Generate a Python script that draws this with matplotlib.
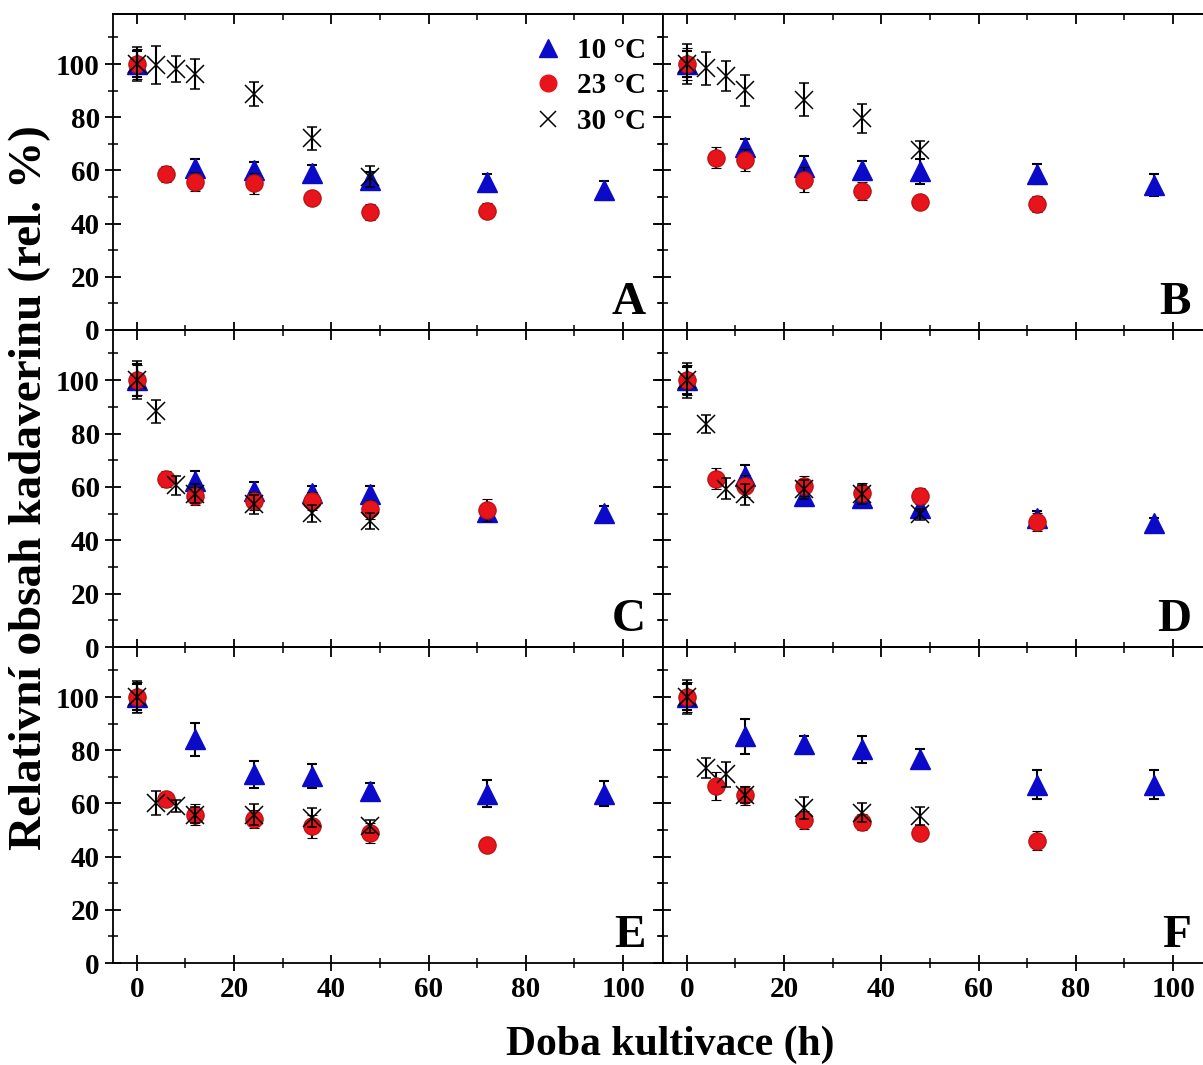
import matplotlib
matplotlib.use("Agg")
import matplotlib.pyplot as plt
from matplotlib.lines import Line2D
from matplotlib.ticker import MultipleLocator

plt.rcParams['font.family'] = ['Liberation Serif', 'DejaVu Serif']
plt.rcParams['font.weight'] = 'bold'

# Sampling times (h) for each cultivation temperature
t10 = [0, 12, 24, 36, 48, 72, 96]
t23 = [0, 6, 12, 24, 36, 48, 72]
t30 = [0, 4, 8, 12, 24, 36, 48]

panels = ["A", "B", "C", "D", "E", "F"]
series_labels = ["10 °C", "23 °C", "30 °C"]

# Relative cadaverine content (rel. %) and standard deviations
A_v10 = [100, 60.8, 60.2, 58.9, 56.4, 55.8, 52.6]
A_e10 = [5, 3.5, 3, 3, 3, 3, 3.6]
A_v23 = [100, 58.6, 55.8, 55.1, 49.5, 44.5, 44.9]
A_e23 = [5.5, 3, 3.5, 3.8, 2.5, 3, 2.8]
A_v30 = [100, 99.6, 98.1, 96.2, 88.7, 72.0, 57.6]
A_e30 = [6.5, 7, 5, 5.6, 4.6, 4.4, 4]

B_v10 = [100, 68.9, 61.4, 60.0, 59.6, 58.6, 54.5]
B_e10 = [5, 3, 4, 3.7, 4.8, 3.8, 4.1]
B_v23 = [100, 64.8, 63.9, 56.4, 52.4, 48.3, 47.4]
B_e23 = [6, 3.9, 4, 4.7, 3.4, 2.5, 3]
B_v30 = [100, 98.4, 95.5, 90.2, 86.5, 79.6, 67.7]
B_e30 = [7.5, 6.3, 5.5, 5.8, 6.2, 5.5, 3.3]

C_v10 = [100, 62.3, 58.5, 57.9, 57.2, 50.7, 50.3]
C_e10 = [6, 3.5, 3.4, 2.5, 3, 2.5, 2.5]
C_v23 = [100, 62.9, 56.6, 54.7, 54.7, 51.6, 51.3]
C_e23 = [5.5, 3, 3.5, 3.5, 3.5, 3.5, 4]
C_v30 = [100, 88.3, 60.6, 57.5, 53.5, 50.1, 47.2]
C_e30 = [7, 4.4, 3.6, 3.5, 3.5, 3.3, 3]

D_v10 = [100, 64.2, 56.6, 56.0, 52.2, 48.5, 46.5]
D_e10 = [5, 4, 2, 2.5, 2.5, 2.5, 2]
D_v23 = [100, 63.1, 60.4, 60.4, 57.6, 56.6, 46.8]
D_e23 = [5.5, 4, 4, 3.8, 3.8, 3, 3.3]
D_v30 = [100, 83.6, 59.4, 57.2, 59.1, 57.2, 49.7]
D_e30 = [6.5, 3.3, 4, 4, 3.5, 3.5, 2]

E_v10 = [100, 84.1, 70.9, 70.3, 64.6, 63.7, 63.7]
E_e10 = [5, 6.3, 5, 4.5, 3, 5, 4.6]
E_v23 = [100, 61.5, 55.8, 54.2, 51.4, 48.9, 44.3]
E_e23 = [5.5, 2.6, 4, 3.5, 4.4, 3.9, 2.3]
E_v30 = [100, 60.0, 59.0, 55.8, 55.8, 54.6, 51.4]
E_e30 = [6, 4.5, 2.3, 3, 4, 3.5, 2.5]

F_v10 = [100, 85.3, 82.2, 80.3, 76.8, 67.1, 67.1]
F_e10 = [5, 6.6, 3.3, 5.1, 3.6, 5.3, 5.4]
F_v23 = [100, 66.5, 63.0, 53.6, 53.1, 48.9, 46.0]
F_e23 = [5.5, 5.3, 3.5, 3.4, 3, 2.5, 3.6]
F_v30 = [100, 73.4, 70.9, 63.1, 58.3, 56.5, 55.2]
F_e30 = [6.5, 3.8, 4.8, 3, 4, 3.6, 3.5]

data = {
    "A": (A_v10, A_e10, A_v23, A_e23, A_v30, A_e30),
    "B": (B_v10, B_e10, B_v23, B_e23, B_v30, B_e30),
    "C": (C_v10, C_e10, C_v23, C_e23, C_v30, C_e30),
    "D": (D_v10, D_e10, D_v23, D_e23, D_v30, D_e30),
    "E": (E_v10, E_e10, E_v23, E_e23, E_v30, E_e30),
    "F": (F_v10, F_e10, F_v23, F_e23, F_v30, F_e30),
}

BLUE = "#0A0AC8"
RED = "#E8141B"

W, H = 1203, 1065
fig = plt.figure(figsize=(W / 100, H / 100), dpi=100)

col_left = [113, 663]
col_w = 550
row_top = [14, 330, 647]
row_h = [316, 317, 316]

tick_font = 21
axes = {}
for i, name in enumerate(panels):
    r, c = divmod(i, 2)
    x0 = col_left[c] / W
    y0 = 1 - (row_top[r] + row_h[r]) / H
    ax = fig.add_axes([x0, y0, col_w / W, row_h[r] / H])
    axes[name] = ax
    v10, e10, v23, e23, v30, e30 = data[name]

    ekw = dict(ecolor="black", elinewidth=1.5, capsize=3.5, capthick=1.5, linestyle="none")
    ax.errorbar(t10, v10, yerr=e10, marker="^", ms=14, mfc=BLUE, mec=BLUE,
                zorder=3, **ekw)
    ax.errorbar(t23, v23, yerr=e23, marker="o", ms=12.5, mfc=RED, mec="#B01010",
                mew=0.8, zorder=4, **ekw)
    ax.errorbar(t30, v30, yerr=e30, marker="x", ms=13, mfc="black", mec="black",
                mew=1.1, zorder=5, **ekw)

    ax.set_xlim(-4.9, 108.2)
    ax.set_ylim(0, 118.8)
    ax.xaxis.set_major_locator(MultipleLocator(20))
    ax.xaxis.set_minor_locator(MultipleLocator(10))
    ax.yaxis.set_major_locator(MultipleLocator(20))
    ax.yaxis.set_minor_locator(MultipleLocator(10))
    for sp in ax.spines.values():
        sp.set_linewidth(1.3)
    ax.tick_params(which="major", direction="inout", length=11, width=1.3,
                   labelsize=tick_font, pad=4)
    ax.tick_params(which="minor", direction="inout", length=7, width=1.1)
    ax.tick_params(labelbottom=(r == 2), labelleft=(c == 0))

    # inward ticks on the top and right spines
    sx = ax.secondary_xaxis("top")
    sx.xaxis.set_major_locator(MultipleLocator(20))
    sx.xaxis.set_minor_locator(MultipleLocator(10))
    sx.tick_params(which="major", direction="in", length=7, width=1.3, labeltop=False)
    sx.tick_params(which="minor", direction="in", length=4, width=1.1)
    sx.spines["top"].set_linewidth(1.3)
    sy = ax.secondary_yaxis("right")
    sy.yaxis.set_major_locator(MultipleLocator(20))
    sy.yaxis.set_minor_locator(MultipleLocator(10))
    sy.tick_params(which="major", direction="in", length=7, width=1.3, labelright=False)
    sy.tick_params(which="minor", direction="in", length=4, width=1.1)

    for lab in ax.get_xticklabels() + ax.get_yticklabels():
        lab.set_fontweight("bold")

    # panel letter in the lower right corner
    letter_x = 0.968 if c == 0 else 0.96
    ax.text(letter_x, 0.05, name, transform=ax.transAxes, ha="right", va="baseline",
            fontsize=34, fontweight="bold")

# legend with plain markers (no error bars)
handles = [
    Line2D([], [], linestyle="none", marker="^", ms=13, mfc=BLUE, mec=BLUE),
    Line2D([], [], linestyle="none", marker="o", ms=12, mfc=RED, mec=RED),
    Line2D([], [], linestyle="none", marker="x", ms=12, mec="black", mew=1.1),
]
axes["A"].legend(handles, series_labels, loc="upper right",
                 bbox_to_anchor=(0.99, 0.965), frameon=False,
                 fontsize=21, handletextpad=0.5, labelspacing=0.3,
                 borderaxespad=0, handlelength=1.0)

fig.text(30 / W, 1 - 488 / H, "Relativní obsah kadaverinu (rel. %)", rotation=90,
         ha="center", va="center", fontsize=34, fontweight="bold")
fig.text(670 / W, 1 - 1045 / H, "Doba kultivace (h)", ha="center", va="center",
         fontsize=30, fontweight="bold")

fig.savefig("out.png", dpi=100)
